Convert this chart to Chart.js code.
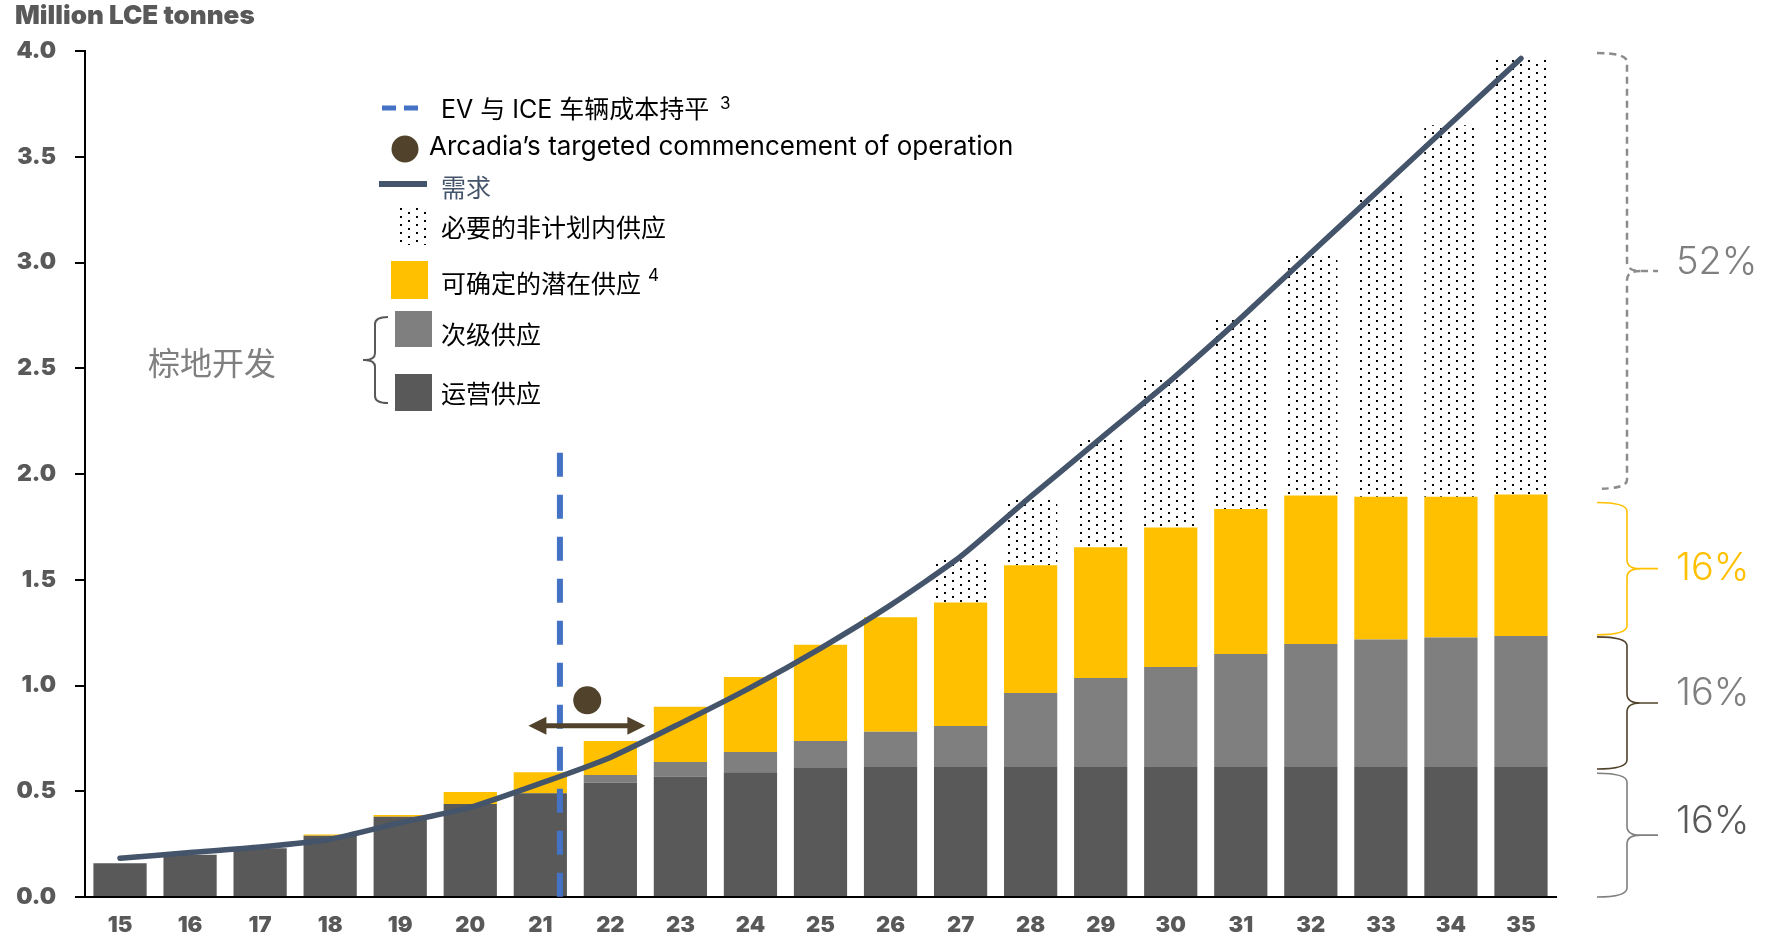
<!DOCTYPE html>
<html>
<head>
<meta charset="utf-8">
<script src="https://cdn.jsdelivr.net/npm/chart.js@4.4.1/dist/chart.umd.min.js"></script>
<style>
  html, body { margin: 0; padding: 0; background: #fff; }
  canvas { display: block; }
</style>
</head>
<body>
<canvas id="supplychart" width="1770" height="937"></canvas>
<script>
// years on the x axis (20xx)
const years = ['15', '16', '17', '18', '19', '20', '21', '22', '23', '24', '25',
               '26', '27', '28', '29', '30', '31', '32', '33', '34', '35'];

// supply layers, million LCE tonnes (stacked bottom to top)
const operatingSupply = [0.16, 0.20, 0.23, 0.29, 0.38, 0.44, 0.49, 0.54, 0.57, 0.59, 0.61,
                         0.615, 0.615, 0.615, 0.615, 0.615, 0.615, 0.615, 0.615, 0.615, 0.615];
const secondarySupply = [0, 0, 0, 0, 0, 0, 0, 0.037, 0.068, 0.096, 0.127,
                         0.166, 0.194, 0.35, 0.421, 0.473, 0.534, 0.581, 0.602, 0.612, 0.619];
const probableSupply = [0, 0, 0, 0.006, 0.008, 0.056, 0.10, 0.161, 0.262, 0.354, 0.456,
                        0.542, 0.583, 0.604, 0.618, 0.659, 0.686, 0.702, 0.676, 0.666, 0.669];
const unplannedSupply = [0, 0, 0, 0, 0, 0, 0, 0, 0, 0, 0,
                         0, 0.204, 0.312, 0.515, 0.70, 0.90, 1.136, 1.446, 1.756, 2.061];
const demand = [0.183, 0.21, 0.236, 0.273, 0.351, 0.424, 0.537, 0.66, 0.821, 0.99, 1.176,
                1.38, 1.61, 1.893, 2.168, 2.443, 2.737, 3.045, 3.351, 3.658, 3.965];

const yTicks = [0, 0.5, 1, 1.5, 2, 2.5, 3, 3.5, 4];

// markers (year, level)
const evParityYear = 21.28;
const evParityTop = 2.1;
const arcadiaYear = 21.67;
const arcadiaLevel = 0.93;
const arcadiaFrom = 20.83;
const arcadiaTo = 22.5;
const arcadiaArrowLevel = 0.81;

// share braces on the right
const shareLabels = ['52%', '16%', '16%', '16%'];
const shareFrom = [1.93, 1.24, 0.605, 0];
const shareTo = [3.99, 1.865, 1.23, 0.585];

const colors = {
    operating: '#595959',
    secondary: '#7F7F7F',
    probable: '#FFC000',
    demand: '#44546A',
    ev: '#4472C4',
    arcadia: '#51432B',
};
const shareBraceColors = ['#8C8C8C', '#FFC000', '#51432B', '#7F7F7F'];
const shareTextColors = ['#7F7F7F', '#FFC000', '#7F7F7F', '#595959'];
const shareTextShift = [-8, 0, -9, -14];

const latin = '"Inter", "Noto Sans CJK SC", sans-serif';
const cjk = '"Noto Sans CJK SC", "Inter", sans-serif';

// dotted fill for the unplanned supply
const makeDots = () => {
    const c = document.createElement('canvas');
    c.width = 16;
    c.height = 8;
    const g = c.getContext('2d');
    g.fillStyle = '#000';
    g.fillRect(0, 0, 2, 2);
    g.fillRect(8, 4, 2, 2);
    return g.createPattern(c, 'repeat');
};
const dots = makeDots();

const drawBrace = (ctx, x0, x1, x2, top, mid, bottom, r) => {
    const s = Math.sign(x2 - x1);
    ctx.beginPath();
    ctx.moveTo(x0, top);
    ctx.quadraticCurveTo(x1, top, x1, top + r);
    ctx.lineTo(x1, mid - r);
    ctx.quadraticCurveTo(x1, mid, x1 + s * r * 1.5, mid);
    ctx.lineTo(x2, mid);
    ctx.moveTo(x1 + s * r * 1.5, mid);
    ctx.quadraticCurveTo(x1, mid, x1, mid + r);
    ctx.lineTo(x1, bottom - r);
    ctx.quadraticCurveTo(x1, bottom, x0, bottom);
    ctx.stroke();
};

const annotations = {
    id: 'annotations',
    afterDatasetsDraw(chart) {
        const ctx = chart.ctx;
        const xs = chart.scales.x;
        const ys = chart.scales.y;
        const xAt = (yr) => xs.getPixelForValue(yr - 15);

        // EV parity dashed line
        ctx.save();
        ctx.strokeStyle = colors.ev;
        ctx.lineWidth = 6;
        ctx.setLineDash([24, 18]);
        ctx.beginPath();
        ctx.moveTo(xAt(evParityYear), ys.getPixelForValue(evParityTop));
        ctx.lineTo(xAt(evParityYear), ys.getPixelForValue(0));
        ctx.stroke();
        ctx.restore();

        // Arcadia commencement marker and arrow
        ctx.save();
        ctx.fillStyle = colors.arcadia;
        ctx.strokeStyle = colors.arcadia;
        ctx.beginPath();
        ctx.arc(xAt(arcadiaYear), ys.getPixelForValue(arcadiaLevel), 14, 0, Math.PI * 2);
        ctx.fill();
        const ay = ys.getPixelForValue(arcadiaArrowLevel);
        const a0 = xAt(arcadiaFrom);
        const a1 = xAt(arcadiaTo);
        ctx.lineWidth = 5;
        ctx.beginPath();
        ctx.moveTo(a0 + 10, ay);
        ctx.lineTo(a1 - 10, ay);
        ctx.stroke();
        ctx.beginPath();
        ctx.moveTo(a0, ay);
        ctx.lineTo(a0 + 18, ay - 9);
        ctx.lineTo(a0 + 18, ay + 9);
        ctx.closePath();
        ctx.moveTo(a1, ay);
        ctx.lineTo(a1 - 18, ay - 9);
        ctx.lineTo(a1 - 18, ay + 9);
        ctx.closePath();
        ctx.fill();
        ctx.restore();
    },
    afterDraw(chart) {
        const ctx = chart.ctx;
        const ys = chart.scales.y;
        const area = chart.chartArea;
        ctx.save();

        // axis title
        ctx.fillStyle = '#595959';
        ctx.font = '900 26px ' + latin;
        ctx.textBaseline = 'middle';
        ctx.textAlign = 'left';
        ctx.fillText('Million LCE tonnes', 15, 16);

        // share braces + percentages
        const bx = area.right;
        shareLabels.forEach((label, i) => {
            const top = ys.getPixelForValue(shareTo[i]);
            const bottom = ys.getPixelForValue(shareFrom[i]);
            const mid = (top + bottom) / 2;
            ctx.strokeStyle = shareBraceColors[i];
            ctx.lineWidth = i === 0 ? 2.5 : 1.6;
            ctx.setLineDash(i === 0 ? [7, 5] : []);
            drawBrace(ctx, bx + 41, bx + 71, bx + 102, top, mid, bottom, 9);
            ctx.setLineDash([]);
            ctx.fillStyle = shareTextColors[i];
            ctx.font = '300 38px ' + latin;
            ctx.fillText(label, bx + 120, mid + shareTextShift[i]);
        });

        // legend
        const tx = 441;
        ctx.font = '400 25px ' + latin;
        ctx.fillStyle = '#000';

        ctx.strokeStyle = colors.ev;
        ctx.lineWidth = 5;
        ctx.setLineDash([14, 8]);
        ctx.beginPath();
        ctx.moveTo(382, 108);
        ctx.lineTo(420, 108);
        ctx.stroke();
        ctx.setLineDash([]);
        ctx.fillText('EV 与 ICE 车辆成本持平', tx, 110);
        ctx.font = '400 17px ' + latin;
        ctx.fillText('3', 720, 104);

        ctx.fillStyle = colors.arcadia;
        ctx.beginPath();
        ctx.arc(405, 149, 13.5, 0, Math.PI * 2);
        ctx.fill();
        ctx.fillStyle = '#000';
        ctx.font = '400 26px ' + latin;
        ctx.fillText('Arcadia\u2019s targeted commencement of operation', 429, 147);

        ctx.strokeStyle = colors.demand;
        ctx.lineWidth = 6;
        ctx.beginPath();
        ctx.moveTo(379, 184);
        ctx.lineTo(427, 184);
        ctx.stroke();
        ctx.fillStyle = colors.demand;
        ctx.font = '400 25px ' + cjk;
        ctx.fillText('需求', tx, 187);

        ctx.fillStyle = dots;
        ctx.fillRect(395, 207, 35, 38);
        ctx.fillStyle = '#000';
        ctx.fillText('必要的非计划内供应', tx, 227);

        ctx.fillStyle = colors.probable;
        ctx.fillRect(391, 261, 37, 38);
        ctx.fillStyle = '#000';
        ctx.fillText('可确定的潜在供应', tx, 283);
        ctx.font = '400 17px ' + latin;
        ctx.fillText('4', 648, 276);

        ctx.font = '400 25px ' + cjk;
        ctx.fillStyle = colors.secondary;
        ctx.fillRect(395, 311, 37, 36);
        ctx.fillStyle = '#000';
        ctx.fillText('次级供应', tx, 334);

        ctx.fillStyle = colors.operating;
        ctx.fillRect(395, 374, 37, 37);
        ctx.fillStyle = '#000';
        ctx.fillText('运营供应', tx, 393);

        ctx.strokeStyle = '#595959';
        ctx.lineWidth = 2;
        drawBrace(ctx, 388, 375, 363, 317, 360, 403, 7);

        ctx.fillStyle = '#7F7F7F';
        ctx.font = '400 32px ' + cjk;
        ctx.fillText('棕地开发', 148, 363);

        ctx.restore();
    },
};

const barBase = {
    type: 'bar',
    stack: 'supply',
    barPercentage: 0.76,
    categoryPercentage: 1,
    order: 2,
};

new Chart(document.getElementById('supplychart'), {
    data: {
        labels: years,
        datasets: [
            { ...barBase, label: '运营供应', data: operatingSupply, backgroundColor: colors.operating },
            { ...barBase, label: '次级供应', data: secondarySupply, backgroundColor: colors.secondary },
            { ...barBase, label: '可确定的潜在供应', data: probableSupply, backgroundColor: colors.probable },
            { ...barBase, label: '必要的非计划内供应', data: unplannedSupply, backgroundColor: dots },
            {
                type: 'line',
                label: '需求',
                data: demand,
                stack: 'demand',
                borderColor: colors.demand,
                borderWidth: 5.5,
                pointRadius: 0,
                tension: 0.2,
                borderCapStyle: 'round',
                order: 1,
            },
        ],
    },
    options: {
        responsive: false,
        animation: false,
        layout: { padding: { top: 51, right: 214, left: 0, bottom: 0 } },
        plugins: {
            legend: { display: false },
            tooltip: { enabled: false },
        },
        scales: {
            x: {
                stacked: true,
                grid: { display: false, drawTicks: false },
                border: { display: true, color: '#000', width: 2 },
                ticks: {
                    color: '#595959',
                    padding: 15,
                    font: { family: latin, size: 22, weight: 900 },
                },
                afterFit: (s) => { s.height = 40; },
            },
            y: {
                stacked: true,
                min: 0,
                max: 4,
                afterBuildTicks: (s) => { s.ticks = yTicks.map((v) => ({ value: v })); },
                grid: {
                    drawOnChartArea: false,
                    drawTicks: true,
                    tickLength: 10,
                    color: '#000',
                    lineWidth: 2,
                },
                border: { display: true, color: '#000', width: 2 },
                ticks: {
                    color: '#595959',
                    padding: 19,
                    font: { family: latin, size: 23, weight: 900 },
                    callback: (v) => Number(v).toFixed(1),
                },
                afterFit: (s) => { s.width = 85; },
            },
        },
    },
    plugins: [annotations],
});
</script>
</body>
</html>
